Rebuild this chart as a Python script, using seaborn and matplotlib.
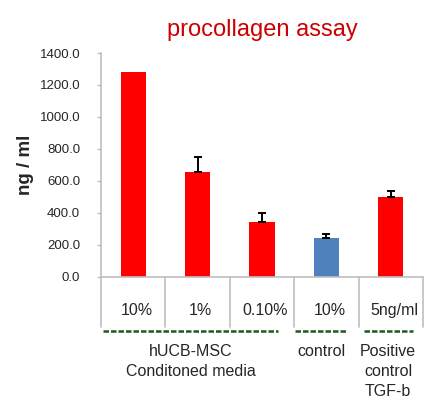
import matplotlib
matplotlib.use("Agg")
import matplotlib.pyplot as plt
import matplotlib.transforms as mtransforms
from matplotlib.ticker import FormatStrFormatter
import seaborn as sns
import pandas as pd

# values
conditions = ["hUCB 10%", "hUCB 1%", "hUCB 0.10%", "control 10%", "TGF-b 5ng/ml"]
dose_labels = ["10%", "1%", "0.10%", "10%", "5ng/ml"]
values = [1280.0, 655.0, 341.0, 245.0, 502.0]
errors = [None, 95.0, 58.0, 25.0, 34.0]   # first bar has no error bar
bar_colors = ["#ff0000", "#ff0000", "#ff0000", "#4f81bd", "#ff0000"]
group_labels = ["hUCB-MSC\nConditoned media", "control", "Positive\ncontrol\nTGF-b"]
group_spans = [(-0.47, 2.25), (2.52, 3.32), (3.58, 4.34)]

sns.set_style("white")
plt.rcParams['font.family'] = ['Liberation Sans', 'DejaVu Sans']

df = pd.DataFrame({"cond": conditions, "val": values})

fig = plt.figure(figsize=(4.48, 4.0), dpi=100)
ax = fig.add_axes([0.2254, 0.308, 0.7188, 0.5595])

sns.barplot(data=df, x="cond", y="val", hue="cond", palette=bar_colors,
            width=0.39, legend=False, ax=ax, saturation=1, edgecolor="none")

err_idx = [i for i, e in enumerate(errors) if e is not None]
ax.errorbar(err_idx, [values[i] for i in err_idx],
            yerr=[[0] * len(err_idx), [errors[i] for i in err_idx]],
            fmt="none", ecolor="black", elinewidth=1.4, capsize=2.6, capthick=1.4)

ax.set_ylim(0, 1400)
ax.set_xlim(-0.5, len(values) - 0.5)
ax.set_yticks(range(0, 1401, 200))
ax.yaxis.set_major_formatter(FormatStrFormatter('%.1f'))
ax.tick_params(axis="y", left=True, length=3, width=1, color="#bfbfbf",
               pad=12, labelsize=9.5)
ax.tick_params(axis="x", bottom=False, labelbottom=False)
ax.set_xlabel("")
ax.set_ylabel("ng / ml", fontsize=13.5, fontweight="bold", labelpad=4)
ax.set_title("procollagen assay", color="#cc0000", fontsize=17, pad=12)

for side in ["top", "right"]:
    ax.spines[side].set_visible(False)
for side in ["left", "bottom"]:
    ax.spines[side].set_color("#bfbfbf")
    ax.spines[side].set_linewidth(1.2)

# table-like category area under the axis
trans = mtransforms.blended_transform_factory(ax.transData, ax.transAxes)
for i in range(len(values) + 1):
    ax.plot([i - 0.5, i - 0.5], [0, -0.225], color="#bfbfbf", lw=1.2,
            transform=trans, clip_on=False)
for i, lab in enumerate(dose_labels):
    ax.text(i + 0.05, -0.152, lab, transform=trans, ha="center", va="center",
            fontsize=11.5)
for (x0, x1), lab in zip(group_spans, group_labels):
    ax.plot([x0, x1], [-0.24, -0.24], color="#1e5a1e", lw=1.8,
            linestyle=(0, (2.2, 0.8)), transform=trans, clip_on=False)
    ax.text((x0 + x1) / 2, -0.302, lab, transform=trans, ha="center", va="top",
            fontsize=11.5, linespacing=1.42)

fig.savefig("out.png", dpi=100)
